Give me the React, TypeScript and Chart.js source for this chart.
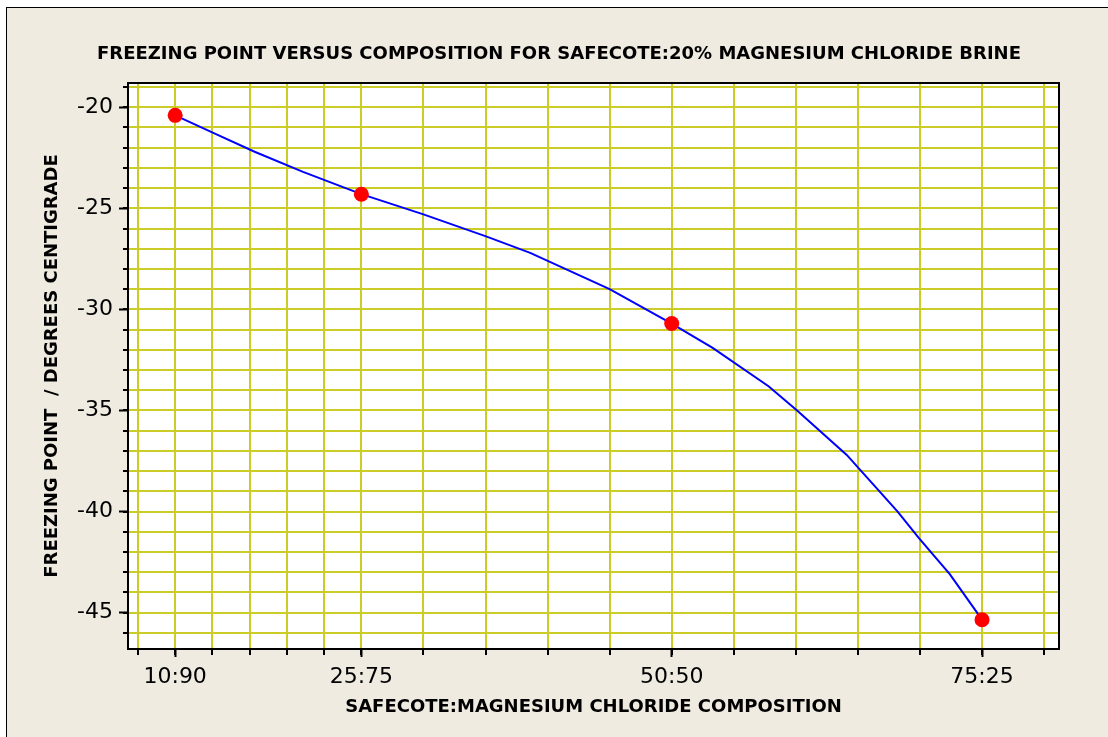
import React, { useEffect, useRef } from 'react';
import { Chart, registerables } from 'chart.js';

Chart.register(...registerables);

const chartTitle = 'FREEZING POINT VERSUS COMPOSITION FOR SAFECOTE:20% MAGNESIUM CHLORIDE BRINE';
const xAxisTitle = 'SAFECOTE:MAGNESIUM CHLORIDE COMPOSITION';
const yAxisTitle = 'FREEZING POINT  / DEGREES CENTIGRADE';

// Measured points (Safecote % : freezing point °C)
const compositionLabels = ['10:90', '25:75', '50:50', '75:25'];
const safecotePercent = [10, 25, 50, 75];
const measuredFreezingPoint = [-20.4, -24.3, -30.7, -45.35];

// Fitted curve
const curveSafecote = [10, 13.2, 16.4, 20.3, 25, 30, 35.1, 38.6, 45.0, 50, 53.3, 57.8, 60.1, 64.1, 68.2, 69.9, 72.4, 75];
const curveFreezing = [-20.4, -21.3, -22.2, -23.2, -24.3, -25.3, -26.4, -27.2, -29.0, -30.7, -31.9, -33.8, -35.0, -37.2, -40.0, -41.3, -43.1, -45.35];

// Tick positions
const xTickValues = [7, 10, 13, 16, 19, 22, 25, 30, 35, 40, 45, 50, 55, 60, 65, 70, 75, 80];
const yTickValues = [-46, -45, -44, -43, -42, -41, -40, -39, -38, -37, -36, -35, -34, -33, -32, -31, -30, -29, -28, -27, -26, -25, -24, -23, -22, -21, -20, -19];
const yMajorTickValues = [-45, -40, -35, -30, -25, -20];

const X_MIN = 6.2;
const X_MAX = 81.2;
const Y_MIN = -46.8;
const Y_MAX = -18.8;

const FONT = 'DejaVu Sans';
const GRID = 'rgb(204,204,40)';

export default function App() {
  const ref = useRef<HTMLCanvasElement | null>(null);

  useEffect(() => {
    if (!ref.current) return;
    const dots = safecotePercent.map((x, i) => ({ x, y: measuredFreezingPoint[i] }));
    const curve = curveSafecote.map((x, i) => ({ x, y: curveFreezing[i] }));

    const chart = new Chart(ref.current, {
      type: 'scatter',
      data: {
        datasets: [
          {
            data: dots,
            backgroundColor: 'rgb(255,0,0)',
            borderWidth: 0,
            pointRadius: 7.5,
            showLine: false,
            xAxisID: 'x',
            yAxisID: 'y',
          },
          {
            data: curve,
            borderColor: 'rgb(0,0,255)',
            borderWidth: 2,
            pointRadius: 0,
            showLine: true,
            tension: 0,
            xAxisID: 'x',
            yAxisID: 'y',
          },
        ],
      },
      options: {
        responsive: false,
        animation: false,
        events: [],
        layout: { padding: { left: 0, right: 0, top: 0, bottom: 0 } },
        plugins: {
          legend: { display: false },
          tooltip: { enabled: false },
          title: {
            display: true,
            text: chartTitle,
            color: '#000',
            font: { family: FONT, size: 18, weight: 'bold' },
            padding: { top: 43.2, bottom: 18.2 },
          },
        },
        scales: {
          x: {
            type: 'linear',
            position: 'bottom',
            weight: 1,
            min: X_MIN,
            max: X_MAX,
            afterBuildTicks: (s: any) => {
              s.ticks = xTickValues.map((v) => ({ value: v }));
            },
            afterFit: (s: any) => {
              s.height = 88;
            },
            grid: { color: GRID, lineWidth: 2, tickLength: 6, tickColor: '#000', tickWidth: 2 },
            border: { display: true, color: '#000', width: 2 },
            ticks: {
              autoSkip: false,
              maxRotation: 0,
              padding: 9,
              color: '#000',
              font: { family: FONT, size: 22 },
              callback: (v: any) => {
                const i = safecotePercent.indexOf(Number(v));
                return i >= 0 ? compositionLabels[i] : '';
              },
            },
            title: {
              display: true,
              text: xAxisTitle,
              color: '#000',
              font: { family: FONT, size: 18, weight: 'bold' },
              padding: { top: 0, bottom: 19.2 },
            },
          },
          xMajor: {
            type: 'linear',
            position: 'bottom',
            weight: 0,
            min: X_MIN,
            max: X_MAX,
            afterBuildTicks: (s: any) => {
              s.ticks = safecotePercent.map((v) => ({ value: v }));
            },
            afterFit: (s: any) => {
              s.height = 0;
            },
            grid: { drawOnChartArea: false, tickLength: 8, tickColor: '#000', tickWidth: 2 },
            border: { display: false },
            ticks: { display: false },
          },
          xTop: {
            type: 'linear',
            position: 'top',
            weight: 0,
            min: X_MIN,
            max: X_MAX,
            afterFit: (s: any) => {
              s.height = 0;
            },
            grid: { display: false, drawTicks: false },
            border: { display: true, color: '#000', width: 2 },
            ticks: { display: false },
          },
          y: {
            type: 'linear',
            position: 'left',
            weight: 1,
            min: Y_MIN,
            max: Y_MAX,
            afterBuildTicks: (s: any) => {
              s.ticks = yTickValues.map((v) => ({ value: v }));
            },
            afterFit: (s: any) => {
              s.width = 128;
            },
            grid: { color: GRID, lineWidth: 2, tickLength: 5, tickColor: '#000', tickWidth: 2 },
            border: { display: true, color: '#000', width: 2 },
            ticks: {
              autoSkip: false,
              padding: 10,
              color: '#000',
              font: { family: FONT, size: 22 },
              callback: (v: any) => (yMajorTickValues.includes(Number(v)) ? String(v) : ''),
            },
            title: {
              display: true,
              text: yAxisTitle,
              color: '#000',
              font: { family: FONT, size: 18, weight: 'bold' },
              padding: { top: 41.2, bottom: 0 },
            },
          },
          yMajor: {
            type: 'linear',
            position: 'left',
            weight: 0,
            min: Y_MIN,
            max: Y_MAX,
            afterBuildTicks: (s: any) => {
              s.ticks = yMajorTickValues.map((v) => ({ value: v }));
            },
            afterFit: (s: any) => {
              s.width = 0;
            },
            grid: { drawOnChartArea: false, tickLength: 9, tickColor: '#000', tickWidth: 2 },
            border: { display: false },
            ticks: { display: false },
          },
          yRight: {
            type: 'linear',
            position: 'right',
            weight: 0,
            min: Y_MIN,
            max: Y_MAX,
            afterFit: (s: any) => {
              s.width = 59;
            },
            grid: { display: false, drawTicks: false },
            border: { display: true, color: '#000', width: 2 },
            ticks: { display: false },
          },
        },
      } as any,
      plugins: [
        {
          id: 'plotBackground',
          beforeDraw: (c: any) => {
            const { ctx, chartArea } = c;
            ctx.save();
            ctx.fillStyle = '#ffffff';
            ctx.fillRect(chartArea.left, chartArea.top, chartArea.right - chartArea.left, chartArea.bottom - chartArea.top);
            ctx.restore();
          },
        },
      ],
    });
    return () => chart.destroy();
  }, []);

  return (
    <div
      style={{
        position: 'fixed',
        left: 0,
        top: 0,
        width: 1108,
        height: 737,
        overflow: 'hidden',
        background: '#ffffff',
      }}
    >
      <div
        style={{
          position: 'absolute',
          left: 6,
          top: 7,
          width: 1200,
          height: 800,
          borderLeft: '1px solid #000',
          borderTop: '1px solid #000',
          background: 'rgb(239,235,225)',
        }}
      />
      <canvas
        ref={ref}
        width={1118}
        height={737}
        style={{ position: 'absolute', left: 0, top: 0, display: 'block' }}
      />
    </div>
  );
}
